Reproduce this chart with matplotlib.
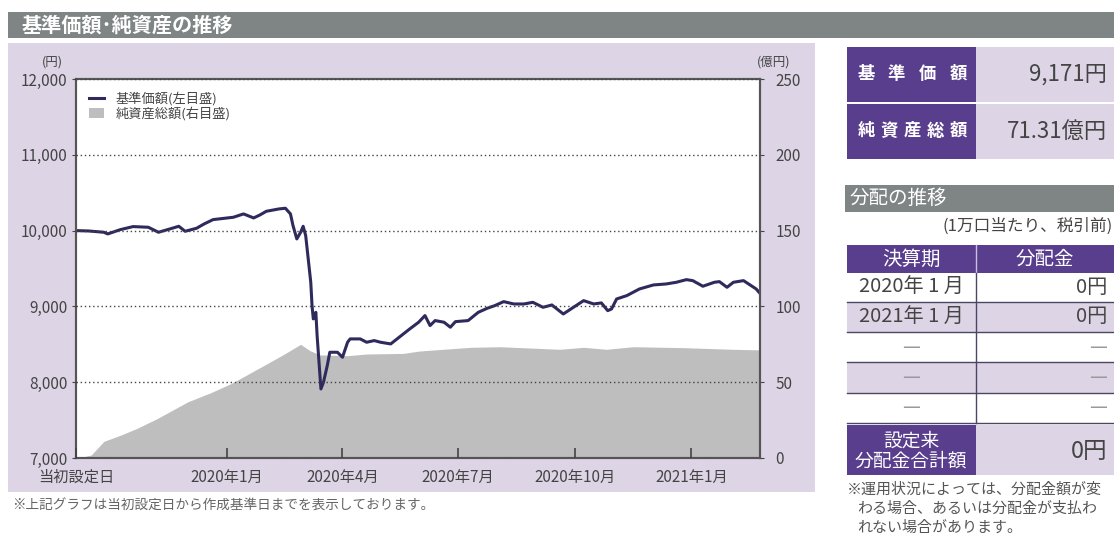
import matplotlib
matplotlib.use('Agg')
import matplotlib.pyplot as plt
from matplotlib.patches import Rectangle, Patch
from matplotlib.lines import Line2D
import pandas as pd

plt.rcParams['font.family'] = ['Noto Sans CJK JP', 'DejaVu Sans']

W, H = 1114, 540

# 基準価額 (円)
nav_dates = ['2019-09-04', '2019-09-14', '2019-09-26', '2019-09-29', '2019-10-09',
             '2019-10-19', '2019-10-31', '2019-11-08', '2019-11-17', '2019-11-24',
             '2019-11-29', '2019-12-08', '2019-12-14', '2019-12-21', '2020-01-06',
             '2020-01-14', '2020-01-22', '2020-01-27', '2020-02-01', '2020-02-11',
             '2020-02-16', '2020-02-20', '2020-02-22', '2020-02-25', '2020-02-28',
             '2020-03-01', '2020-03-03', '2020-03-05', '2020-03-07', '2020-03-08',
             '2020-03-09', '2020-03-11', '2020-03-12', '2020-03-15', '2020-03-17',
             '2020-03-20', '2020-03-22', '2020-03-28', '2020-04-01', '2020-04-05',
             '2020-04-07', '2020-04-15', '2020-04-20', '2020-04-26', '2020-05-01',
             '2020-05-09', '2020-05-14', '2020-05-19', '2020-05-24', '2020-05-31',
             '2020-06-05', '2020-06-09', '2020-06-13', '2020-06-20', '2020-06-25',
             '2020-06-29', '2020-07-09', '2020-07-17', '2020-07-24', '2020-07-30',
             '2020-08-06', '2020-08-14', '2020-08-22', '2020-08-29', '2020-09-06',
             '2020-09-13', '2020-09-22', '2020-09-30', '2020-10-08', '2020-10-16',
             '2020-10-22', '2020-10-27', '2020-10-30', '2020-11-03', '2020-11-11',
             '2020-11-21', '2020-12-02', '2020-12-12', '2020-12-20', '2020-12-28',
             '2021-01-02', '2021-01-10', '2021-01-19', '2021-01-23', '2021-01-29',
             '2021-02-03', '2021-02-11', '2021-02-17', '2021-02-21', '2021-02-24']
nav_values = [10000, 9995, 9978, 9956, 10013,
              10053, 10044, 9978, 10022, 10057,
              9991, 10031, 10088, 10145, 10176,
              10220, 10167, 10207, 10255, 10286,
              10295, 10220, 10066, 9890, 9978,
              10057, 9934, 9626, 9318, 9010,
              8835, 8922, 8614, 7911, 7999,
              8219, 8395, 8395, 8329, 8527,
              8571, 8571, 8527, 8549, 8527,
              8505, 8571, 8637, 8703, 8791,
              8879, 8747, 8813, 8791, 8725,
              8799, 8813, 8922, 8975, 9010,
              9063, 9032, 9032, 9054, 8988,
              9019, 8900, 8988, 9076, 9032,
              9046, 8944, 8966, 9098, 9142,
              9230, 9283, 9296, 9318, 9353,
              9340, 9266, 9318, 9327, 9252,
              9318, 9340, 9274, 9230, 9171]

# 純資産総額 (億円)
asset_dates = ['2019-09-04', '2019-09-06', '2019-09-16', '2019-09-21', '2019-09-26',
               '2019-10-09', '2019-10-22', '2019-11-07', '2019-11-19', '2019-12-01',
               '2019-12-19', '2020-01-04', '2020-01-14', '2020-01-30', '2020-02-14',
               '2020-02-28', '2020-03-06', '2020-03-14', '2020-04-05', '2020-04-20',
               '2020-05-19', '2020-05-31', '2020-06-11', '2020-07-11', '2020-08-03',
               '2020-09-19', '2020-10-08', '2020-10-26', '2020-11-16', '2020-12-25',
               '2021-02-03', '2021-02-24']
asset_values = [0, 0, 2, 6.5, 11,
                15, 19.5, 26, 31.5, 37,
                43, 49, 53.6, 61, 68,
                75, 71, 68, 67.5, 68.6,
                69, 70.5, 71.2, 73, 73.4,
                71.7, 73, 71.7, 73.4, 72.8,
                71.7, 71.31]

x_ticks = ['2019-09-04', '2020-01-01', '2020-04-01', '2020-07-01', '2020-10-01', '2021-01-01']
x_tick_labels = ['当初設定日', '2020年1月', '2020年4月', '2020年7月', '2020年10月', '2021年1月']
left_ticks = [7000, 8000, 9000, 10000, 11000, 12000]
right_ticks = [0, 50, 100, 150, 200, 250]

summary_labels = ['基準価額', '純資産総額']
summary_values = ['9,171円', '71.31億円']
dist_periods = ['2020年 1 月', '2021年 1 月', '—', '—', '—']
dist_amounts = ['0円', '0円', '—', '—', '—']
dist_total = '0円'

PURPLE = '#5a3e8e'
LAV = '#ddd5e6'
GRAY_BAND = '#7e8584'
TXT = '#444444'


def rect(x0, y0, x1, y1):
    return [x0 / W, 1 - y1 / H, (x1 - x0) / W, (y1 - y0) / H]


fig = plt.figure(figsize=(W / 100, H / 100), dpi=100)

# background layer in pixel coordinates
bg = fig.add_axes([0, 0, 1, 1])
bg.set_xlim(0, W)
bg.set_ylim(H, 0)
bg.axis('off')
bg.set_zorder(-5)

bg.add_patch(Rectangle((8, 12), W - 8, 26, color=GRAY_BAND, lw=0))
bg.text(22, 25, '基準価額･純資産の推移', color='white', fontsize=14.5,
        fontweight='bold', va='center', ha='left')
bg.add_patch(Rectangle((8, 43), 807, 449, color=LAV, lw=0))
bg.text(52, 62, '(円)', fontsize=9, color=TXT, ha='center', va='center')
bg.text(774, 62, '(億円)', fontsize=9, color=TXT, ha='center', va='center')
bg.text(12, 506, '※上記グラフは当初設定日から作成基準日までを表示しております。',
        fontsize=9.8, color='#666666', ha='left', va='center')

# summary boxes, label characters spread across the purple cell
for i, (lab, val) in enumerate(zip(summary_labels, summary_values)):
    y0 = 47 + i * 57
    bg.add_patch(Rectangle((847, y0), 129, 55, color=PURPLE, lw=0))
    bg.add_patch(Rectangle((976, y0), W - 976, 55, color=LAV, lw=0))
    n = len(lab)
    for k, ch in enumerate(lab):
        cx = 866 + k * (92 / (n - 1))
        bg.text(cx, y0 + 27, ch, color='white', fontsize=12.5, fontweight='bold',
                ha='center', va='center')
    bg.text(1107, y0 + 27, val, color=TXT, fontsize=16, ha='right', va='center')

# distribution table
bg.add_patch(Rectangle((845, 185), W - 845, 27, color=GRAY_BAND, lw=0))
bg.text(850, 198, '分配の推移', color='white', fontsize=14, ha='left', va='center')
bg.text(1113, 226, '(1万口当たり、税引前)', color=TXT, fontsize=12, ha='right', va='center')
bg.add_patch(Rectangle((847, 245), W - 847, 28, color=PURPLE, lw=0))
bg.plot([976, 976], [245, 273], color='#c9bedb', lw=1)
bg.text(911, 259, '決算期', color='white', fontsize=14, ha='center', va='center')
bg.text(1045, 259, '分配金', color='white', fontsize=14, ha='center', va='center')

row_tops = [273, 302, 332, 362, 393]
row_bots = [302, 332, 362, 393, 423]
for i, (per, amt) in enumerate(zip(dist_periods, dist_amounts)):
    y0, y1 = row_tops[i], row_bots[i]
    fill = 'white' if i % 2 == 0 else LAV
    bg.add_patch(Rectangle((847, y0), W - 847, y1 - y0, color=fill, lw=0))
    yc = (y0 + y1) / 2
    bg.text(911, yc, per, color=TXT if per != '—' else '#999999', fontsize=14.5,
            ha='center', va='center')
    bg.text(1107, yc, amt, color=TXT if amt != '—' else '#999999', fontsize=14.5,
            ha='right', va='center')
for y in row_tops[1:] + [row_bots[-1]]:
    bg.plot([847, W], [y, y], color='#4b4663', lw=1)
bg.plot([976, 976], [273, 423], color='#4b4663', lw=1)

bg.add_patch(Rectangle((847, 425), 129, 50, color=PURPLE, lw=0))
bg.add_patch(Rectangle((976, 425), W - 976, 50, color=LAV, lw=0))
bg.text(911, 451, '設定来\n分配金合計額', color='white', fontsize=13.5,
        ha='center', va='center', linespacing=0.95)
bg.text(1107, 451, dist_total, color=TXT, fontsize=17, ha='right', va='center')

note_lines = ['※運用状況によっては、分配金額が変',
              'わる場合、あるいは分配金が支払わ',
              'れない場合があります。']
for i, line in enumerate(note_lines):
    bg.text(847 if i == 0 else 857, 490 + i * 19, line, color='#555555',
            fontsize=10.8, ha='left', va='center')

# chart
ax = fig.add_axes(rect(76, 79, 760, 458))
ax2 = ax.twinx()
ax.set_zorder(ax2.get_zorder() + 1)
ax.patch.set_visible(False)
ax2.patch.set_visible(True)
ax2.patch.set_facecolor('white')

nd = pd.to_datetime(nav_dates)
ad = pd.to_datetime(asset_dates)
ax2.fill_between(ad, asset_values, 0, color='#bebebe', lw=0)
ax.plot(nd, nav_values, color='#2f2a5c', lw=2.2, solid_joinstyle='round')

xmin, xmax = pd.Timestamp('2019-09-04'), pd.Timestamp('2021-02-24')
ax.set_xlim(xmin, xmax)
ax.set_ylim(7000, 12000)
ax2.set_ylim(0, 250)

ax.set_yticks(left_ticks)
ax.set_yticklabels([f'{v:,}' for v in left_ticks])
ax2.set_yticks(right_ticks)
ax2.set_yticklabels([str(v) for v in right_ticks])
ax.set_xticks(pd.to_datetime(x_ticks))
ax.set_xticklabels(x_tick_labels)

ax.tick_params(axis='x', direction='in', length=7, width=1.2, color='#444444',
               labelsize=11, labelcolor=TXT, pad=8)
ax.tick_params(axis='y', direction='out', length=3, color='#444444',
               labelsize=11, labelcolor=TXT, pad=3)
ax2.tick_params(axis='y', direction='out', length=3, color='#444444',
                labelsize=11, labelcolor=TXT, pad=8)

ax.yaxis.grid(True, linestyle=(0, (1, 2)), color='#444444', lw=1)
ax.set_axisbelow(False)
for a in (ax, ax2):
    for s in a.spines.values():
        s.set_color('#555555')
        s.set_linewidth(1.5)

handles = [Line2D([], [], color='#2f2a5c', lw=2.2),
           Patch(facecolor='#bebebe', edgecolor='none')]
ax.legend(handles, ['基準価額(左目盛)', '純資産総額(右目盛)'], loc='upper left',
          frameon=False, fontsize=9.5, handlelength=1.1, handleheight=0.8,
          labelspacing=0.05, borderaxespad=0.6, handletextpad=0.9,
          labelcolor=TXT)

fig.savefig('out.png', dpi=100)
